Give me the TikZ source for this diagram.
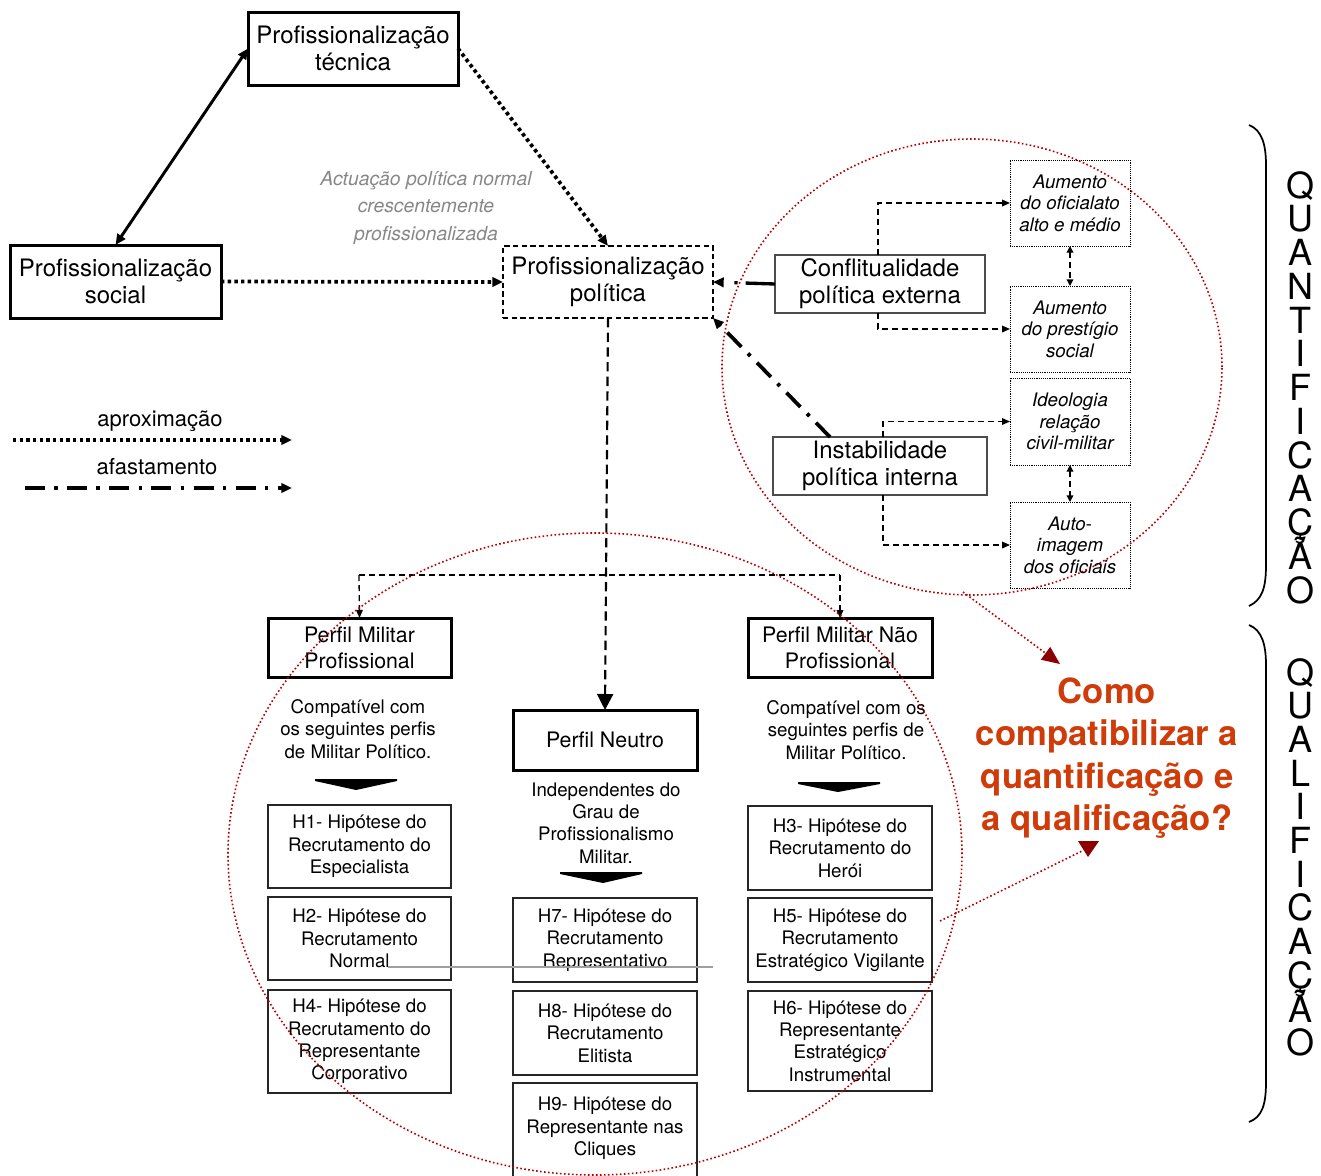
\documentclass[tikz,border=0pt]{standalone}
\usepackage{fontspec}
\setmainfont{TeX Gyre Heros}
\usetikzlibrary{arrows.meta,calc}
\definecolor{qcol}{RGB}{207,60,10}
\definecolor{dred}{RGB}{180,0,0}
\definecolor{tipred}{RGB}{140,0,0}
\definecolor{graytxt}{RGB}{135,135,135}
\begin{document}
\begin{tikzpicture}[x=0.75pt,y=-0.75pt,
  bigfont/.style={font=\fontsize{18}{20.25}\selectfont},
  perffont/.style={font=\fontsize{16}{19.5}\selectfont},
  smallfont/.style={font=\fontsize{14}{16.8}\selectfont},
  thickbox/.style={draw, line width=2.25pt, inner sep=0pt, outer sep=0pt, align=center},
  thinbox/.style={draw=black!85, line width=1.1pt, inner sep=0pt, outer sep=0pt, align=center, smallfont},
  dashbox/.style={draw, line width=0.9pt, dash pattern=on 4pt off 2.5pt, inner sep=0pt, outer sep=0pt, align=center, bigfont},
  greybox/.style={draw=black!70, line width=1.1pt, inner sep=0pt, outer sep=0pt, align=center, bigfont},
  dotbox/.style={draw, line width=0.7pt, dash pattern=on 0.7pt off 0.7pt, inner sep=0pt, outer sep=0pt, align=center, font=\fontsize{14}{16.1}\selectfont\itshape},
  txt/.style={align=center, inner sep=0pt},
  aprox/.style={line width=2.8pt, dash pattern=on 2.6pt off 2.4pt, -{Triangle[length=8pt,width=7pt]}},
  afast/.style={line width=2.8pt, dash pattern=on 15pt off 7pt on 2.6pt off 7pt, -{Triangle[length=8pt,width=7pt]}},
  dsh/.style={line width=1pt, dash pattern=on 4.5pt off 3pt},
  dshar/.style={dsh, -{Triangle[length=6pt,width=5pt]}},
  reddot/.style={draw=dred, line width=1.2pt, dash pattern=on 1.2pt off 1.8pt},
  letter/.style={anchor=base, inner sep=0pt, font=\fontsize{27}{27}\selectfont}
]
\useasboundingbox (0,0) rectangle (1321,1175);

% ---------- top triangle ----------
\node[thickbox, bigfont, minimum width=157.5pt, minimum height=54.75pt] (tec) at (353,48.5) {Profissionalização\\técnica};
\node[thickbox, bigfont, minimum width=158.25pt, minimum height=54.75pt] (soc) at (115.5,281.5) {Profissionalização\\social};
\node[dashbox, minimum width=157.5pt, minimum height=54pt] (pol) at (608,282) {Profissionalização\\política};

\node[txt, text=graytxt, font=\fontsize{14.5}{20.6}\selectfont\itshape] (actu) at (426,208)
  {Actuação política normal\\crescentemente\\profissionalizada};

\draw[line width=2.2pt, {Triangle[length=8pt,width=7pt]}-{Triangle[length=8pt,width=7pt]}] (soc.north) -- (tec.west);
\draw[aprox] (tec.east) -- (pol.north);
\draw[aprox] (soc.east) -- (pol.west);

% ---------- right factors ----------
\node[greybox, minimum width=157.5pt, minimum height=43.5pt] (confl) at (880,284) {Conflitualidade\\política externa};
\node[greybox, minimum width=160.5pt, minimum height=43.5pt] (instab) at (880,466) {Instabilidade\\política interna};

\node[dotbox, minimum width=90pt, minimum height=64.5pt] (a1) at (1070,203) {Aumento\\do oficialato\\alto e médio};
\node[dotbox, minimum width=90pt, minimum height=64.5pt] (a2) at (1070,329) {Aumento\\do prestígio\\social};
\node[dotbox, minimum width=90pt, minimum height=65.25pt] (a3) at (1070,421.5) {Ideologia\\relação\\civil-militar};
\node[dotbox, minimum width=90pt, minimum height=64.5pt] (a4) at (1070,545) {Auto-\\imagem\\dos oficiais};

\draw[dshar] ($(confl.north)+(-2,0)$) |- (a1.west);
\draw[dshar] ($(confl.south)+(-2,0)$) |- (a2.west);
\draw[dshar] ($(instab.north)+(3,0)$) |- (a3.west);
\draw[dshar] ($(instab.south)+(3,0)$) |- (a4.west);
\draw[dsh, {Triangle[length=5pt,width=5pt]}-{Triangle[length=5pt,width=5pt]}] (a1.south) -- (a2.north);
\draw[dsh, {Triangle[length=5pt,width=5pt]}-{Triangle[length=5pt,width=5pt]}] (a3.south) -- (a4.north);

\draw[line width=2.5pt, dash pattern=on 22pt off 6pt on 2.5pt off 40pt, -{Triangle[length=8pt,width=7pt]}] (confl.west) -- (pol.east);
\draw[afast] ($(instab.north)+(-50,0)$) -- (pol.south east);

% ---------- legend ----------
\node[txt, font=\fontsize{16.5}{18}\selectfont] (lap) at (160,421) {aproximação};
\node[txt, font=\fontsize{16.5}{18}\selectfont] (laf) at (157,467) {afastamento};
\coordinate (l1a) at (13,440);
\coordinate (l1b) at (292,440);
\coordinate (l2a) at (25,488);
\coordinate (l2b) at (292,488);
\draw[aprox] (l1a) -- (l1b);
\draw[afast] (l2a) -- (l2b);

% ---------- profiles ----------
\node[thickbox, perffont, minimum width=137.25pt, minimum height=44.25pt] (pmp) at (359.5,647.5) {Perfil Militar\\Profissional};
\node[thickbox, perffont, minimum width=138pt, minimum height=44.25pt] (pmnp) at (840,647.5) {Perfil Militar Não\\Profissional};
\node[thickbox, perffont, minimum width=138pt, minimum height=45pt] (pn) at (605,740) {Perfil Neutro};

\coordinate (hl) at (359,575);
\coordinate (hr) at (840,575);
\draw[dsh] (hl) -- (hr);
\draw[dshar] (hl) -- (pmp.north);
\draw[dshar] (hr) -- (pmnp.north);
\draw[line width=1.6pt, dash pattern=on 7pt off 4pt, -{Triangle[length=12pt,width=12pt]}] (pol.south) -- (pn.north);

\node[txt, smallfont] (c1) at (358,729) {Compatível com\\os seguintes perfis\\de Militar Político.};
\node[txt, smallfont] (c2) at (606,823) {Independentes do\\Grau de\\Profissionalismo\\Militar.};
\node[txt, smallfont] (c3) at (846,730) {Compatível com os\\seguintes perfis de\\Militar Político.};

\fill (315,779) -- (397,779) -- (397,781) -- (356,790) -- (315,781) -- cycle;
\fill (560,872) -- (642,872) -- (642,874) -- (603,883) -- (560,874) -- cycle;
\fill (798,782) -- (880,782) -- (880,784) -- (838,792) -- (798,784) -- cycle;

% ---------- hypotheses ----------
\node[thinbox, minimum width=137.25pt, minimum height=62.25pt] (h1) at (359.5,846.5) {H1- Hipótese do\\Recrutamento do\\Especialista};
\node[thinbox, minimum width=137.25pt, minimum height=62.25pt] (h2) at (359.5,938.5) {H2- Hipótese do\\Recrutamento\\Normal};
\node[thinbox, minimum width=137.25pt, minimum height=77.25pt] (h4) at (359.5,1041.5) {H4- Hipótese do\\Recrutamento do\\Representante\\Corporativo};
\node[thinbox, minimum width=138pt, minimum height=63pt] (h7) at (605,940) {H7- Hipótese do\\Recrutamento\\Representativo};
\node[thinbox, minimum width=138pt, minimum height=63pt] (h8) at (605,1033) {H8- Hipótese do\\Recrutamento\\Elitista};
\node[thinbox, draw=none, minimum width=138pt, minimum height=68.25pt] (h9) at (605,1128.5) {H9- Hipótese do\\Representante nas\\Cliques};
\draw[draw=black!85, line width=1.1pt] ([yshift=-6pt]h9.south west) -- (h9.north west) -- (h9.north east) -- ([yshift=-6pt]h9.south east);
\node[thinbox, minimum width=138pt, minimum height=63pt] (h3) at (840,848) {H3- Hipótese do\\Recrutamento do\\Herói};
\node[thinbox, minimum width=138pt, minimum height=63pt] (h5) at (840,940) {H5- Hipótese do\\Recrutamento\\Estratégico Vigilante};
\node[thinbox, minimum width=138pt, minimum height=75pt] (h6) at (840,1041) {H6- Hipótese do\\Representante\\Estratégico\\Instrumental};

\coordinate (g1) at (388,967);
\coordinate (g2) at (713,967);
\draw[gray!75, line width=1pt] (g1) -- (g2);

% ---------- question ----------
\node[txt, text=qcol, font=\bfseries\fontsize{26}{31.7}\selectfont] (q) at (1107,758)
  {Como\\compatibilizar a\\quantificação e\\a qualificação?};

% ---------- brackets and vertical words ----------
\draw[line width=1.3pt] (1249,125) .. controls (1262,130) and (1266,145) .. (1266,165) -- (1266,565) .. controls (1266,588) and (1262,600) .. (1249,606);
\draw[line width=1.3pt] (1249,625) .. controls (1262,630) and (1266,645) .. (1266,665) -- (1266,1082) .. controls (1266,1105) and (1262,1117) .. (1249,1122);
\foreach \c [count=\i from 0] in {Q,U,A,N,T,I,F,I,C,A,Ç,Ã,O}
  \node[letter] at (1300,{198+33.75*\i}) {\c};
\foreach \c [count=\i from 0] in {Q,U,A,L,I,F,I,C,A,Ç,Ã,O}
  \node[letter] at (1300,{685+33.7*\i}) {\c};

% ---------- red dotted circles and arrows ----------
\draw[reddot] (972,367) ellipse [x radius=187.5pt, y radius=171pt];
\draw[reddot] (595,854) ellipse [x radius=275.25pt, y radius=240.75pt];
\coordinate (r1a) at (963,592);
\coordinate (r1b) at (1048,655);
\draw[reddot] (r1a) -- (r1b);
\fill[tipred] (1060,664) -- (1040.8,659.7) -- (1050.2,646.9) -- cycle;
\coordinate (r2a) at (940,921);
\coordinate (r2b) at (1082,851);
\draw[reddot] (r2a) -- (r2b);
\fill[tipred] (1078,841) -- (1099,841) -- (1088,857) -- cycle;
\end{tikzpicture}
\end{document}
